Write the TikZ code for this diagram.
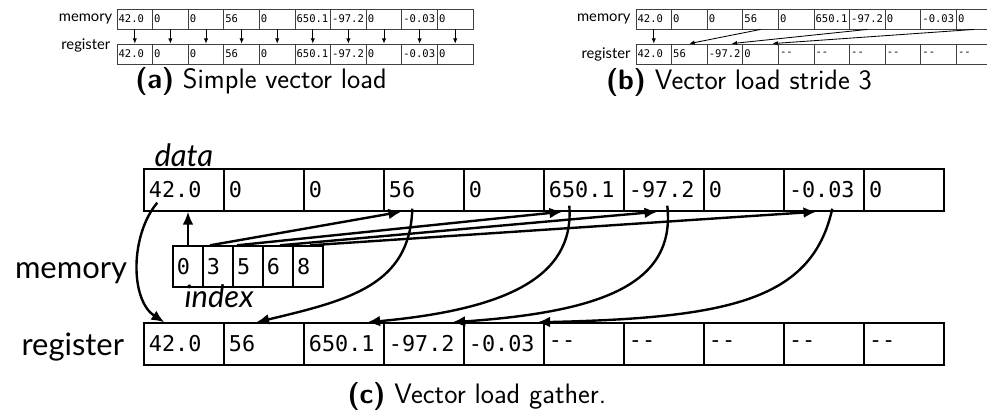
\documentclass[tikz,border=0pt]{standalone}
\usepackage{fontspec}
\setmainfont{Lato}
\setmonofont{DejaVu Sans Mono}
\usetikzlibrary{positioning,arrows.meta}

\begin{document}
\begin{tikzpicture}[x=0.025cm, y=-0.025cm,
    tinycell/.style={draw=black!75, line width=0.6pt, minimum width=0.89cm,
      minimum height=0.5cm, text width=0.81cm, inner xsep=0.04cm, inner ysep=0pt,
      align=left, font=\ttfamily\fontsize{7.5}{8}\selectfont},
    bigcell/.style={draw, line width=1pt, minimum width=2cm, minimum height=1.05cm,
      text width=1.75cm, inner xsep=0.125cm, inner ysep=0pt, align=left,
      font=\ttfamily\fontsize{15.5}{17}\selectfont},
    idxcell/.style={bigcell, minimum width=0.75cm, text width=0.55cm,
      inner xsep=0.1cm, minimum height=1.025cm},
    tinyarrow/.style={-{Latex[length=1.3mm,width=1.1mm]}, line width=0.6pt},
    bigarrow/.style={-{Latex[length=3.2mm,width=2.7mm]}, line width=1.7pt},
    tinylabel/.style={font=\fontsize{10.5}{12}\selectfont, inner sep=0pt},
    biglabel/.style={font=\fontsize{22}{26}\selectfont, inner sep=0pt},
    caption/.style={font=\sffamily\fontsize{20}{23}\selectfont, inner sep=0pt}]
  \useasboundingbox (0,0) rectangle (987,410);

  % (a) simple vector load
  \foreach \v [count=\i from 0] in {42.0,0,0,56,0,650.1,-97.2,0,-0.03,0} {
    \node[tinycell] (am\i) at (134.8+35.6*\i, 19) {\v};
    \node[tinycell] (ar\i) at (134.8+35.6*\i, 54) {\v};
    \draw[tinyarrow] (am\i) -- (ar\i);
  }
  \node[tinylabel, left=0.1cm of am0] (amlab) {memory};
  \node[tinylabel, left=0.15cm of ar0, yshift=0.22cm] (arlab) {register};
  \node[caption] (capa) at (261,81) {\textbf{(a)} Simple vector load};

  % (b) stride 3
  \foreach \v [count=\i from 0] in {42.0,0,0,56,0,650.1,-97.2,0,-0.03,0}
    \node[tinycell] (bm\i) at (653.8+35.6*\i, 19) {\v};
  \foreach \v [count=\i from 0] in {42.0,56,-97.2,0,--,--,--,--,--,--}
    \node[tinycell] (br\i) at (653.8+35.6*\i, 54) {\v};
  \draw[tinyarrow] (bm0) -- (br0);
  \draw[tinyarrow] (bm3.south) -- (br1.north);
  \draw[tinyarrow] (bm6.south) -- ([xshift=0.17cm]br2.north);
  \draw[tinyarrow] (bm9.south) -- ([xshift=0.3cm]br3.north);
  \node[tinylabel, left=0.12cm of bm0] (bmlab) {memory};
  \node[tinylabel, left=0.12cm of br0] (brlab) {register};
  \node[caption] (capb) at (739,82) {\textbf{(b)} Vector load stride 3};

  % (c) gather
  \foreach \v [count=\i from 0] in {42.0,0,0,56,0,650.1,-97.2,0,-0.03,0}
    \node[bigcell] (d\i) at (184+80*\i, 190) {\v};
  \foreach \v [count=\i from 0] in {42.0,56,650.1,-97.2,-0.03,--,--,--,--,--}
    \node[bigcell] (r\i) at (184+80*\i, 344) {\v};
  \foreach \v [count=\i from 0] in {0,3,5,6,8}
    \node[idxcell] (ix\i) at (188+30*\i, 266.5) {\v};

  \node[biglabel, anchor=base west, xshift=0.275cm, yshift=0.05cm]
    (datalab) at (d0.north west) {\itshape data};
  \node[biglabel, anchor=base west, xshift=0.3cm, yshift=-0.5cm]
    (idxlab) at (ix0.south west) {\itshape index};
  \node[biglabel, anchor=base east, xshift=-1.125cm, yshift=-0.29cm]
    (memlab) at (ix0.west) {memory};
  \node[biglabel, anchor=base east, xshift=-0.475cm, yshift=-0.275cm]
    (reglab) at (r0.west) {register};

  % index -> data
  \draw[bigarrow] (ix0.north) -- (ix0.north |- d0.south);
  \draw[bigarrow] ([xshift=-0.2cm]ix1.north) -- ([xshift=0.45cm]d3.south west);
  \draw[bigarrow] ([xshift=-0.275cm]ix2.north) -- ([xshift=0.475cm]d5.south west);
  \draw[bigarrow] ([xshift=0.05cm]ix3.north) -- ([xshift=0.85cm]d6.south west);
  \draw[bigarrow] ([xshift=0.05cm]ix4.north) -- ([xshift=0.825cm]d8.south west);

  % data -> register
  \draw[bigarrow] ([xshift=0.35cm, yshift=0.225cm]d0.south west)
    .. controls (130,235) and (130,300) .. ([xshift=0.525cm]r0.north west);
  \draw[bigarrow] ([xshift=0.725cm, yshift=0.075cm]d3.south west)
    .. controls (410,285) and (350,300) .. ([xshift=0.825cm]r1.north west);
  \draw[bigarrow] ([xshift=0.65cm, yshift=0.15cm]d5.south west)
    .. controls (575,280) and (500,310) .. ([xshift=1.6cm]r2.north west);
  \draw[bigarrow] ([xshift=1.1cm, yshift=0.15cm]d6.south west)
    .. controls (676,285) and (600,312) .. ([xshift=1.725cm]r3.north west);
  \draw[bigarrow] ([xshift=1.225cm, yshift=0.075cm]d8.south west)
    .. controls (812,300) and (730,318) .. ([xshift=1.85cm]r4.north west);

  \node[caption] (capc) at (477,396) {\textbf{(c)} Vector load gather.};
\end{tikzpicture}
\end{document}
